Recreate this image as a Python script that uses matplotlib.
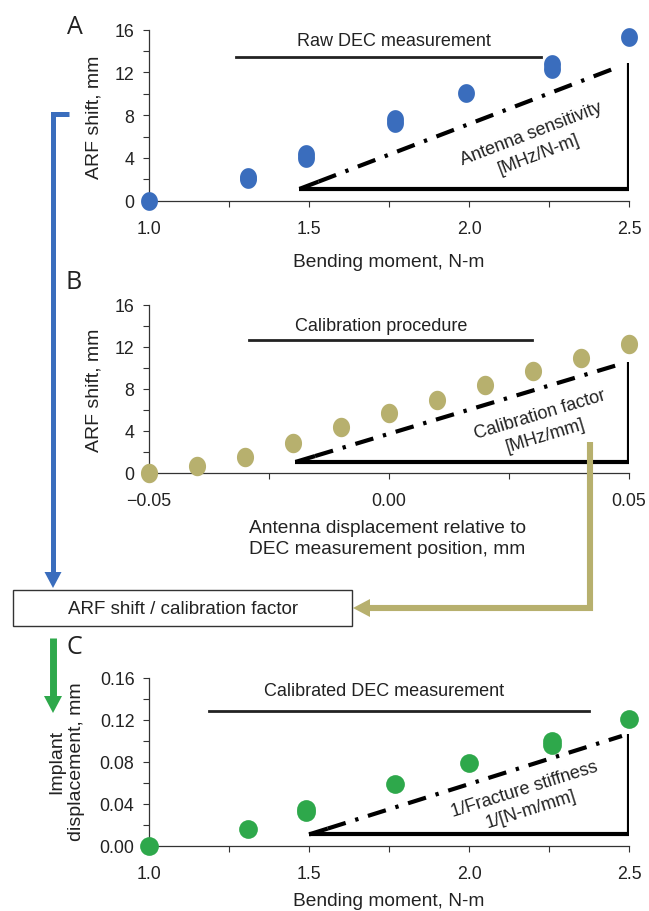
import numpy as np
import matplotlib
matplotlib.use('Agg')
import matplotlib.pyplot as plt
from matplotlib.path import Path
from matplotlib.lines import Line2D
from matplotlib.patches import Polygon, Rectangle

plt.rcParams['font.family'] = ['Liberation Sans', 'DejaVu Sans']

W, H = 649, 912  # output size in pixels (dpi 100)

BLUE = '#3a6dbd'
TAN = '#b7b06e'
GREEN = '#2ea84b'
INK = '#222222'

# Panel A: raw DEC measurement (overlapping pairs were read as two points)
moment_a = [1.0, 1.31, 1.31, 1.49, 1.49, 1.77, 1.77, 1.99, 2.26, 2.26, 2.5]
shift_a = [0.0, 2.0, 2.2, 4.0, 4.35, 7.3, 7.6, 10.1, 12.3, 12.75, 15.3]

# Panel B: calibration procedure
disp_b = [-0.05, -0.04, -0.03, -0.02, -0.01, 0.0, 0.01, 0.02, 0.03, 0.04, 0.05]
shift_b = [0.0, 0.7, 1.5, 2.9, 4.4, 5.7, 7.0, 8.4, 9.7, 11.0, 12.3]

# Panel C: calibrated DEC measurement
moment_c = [1.0, 1.31, 1.49, 1.49, 1.77, 2.0, 2.26, 2.26, 2.5]
implant_c = [0.0, 0.016, 0.032, 0.035, 0.059, 0.079, 0.096, 0.100, 0.121]

# slope triangles: (x start, x corner, y bottom, y top of vertical, hyp end x, hyp end y)
tri_a = (1.47, 2.5, 1.1, 12.9, 2.465, 12.5)
tri_b = (-0.0195, 0.05, 1.05, 10.55, 0.0488, 10.45)
tri_c = (1.50, 2.5, 0.011, 0.107, 2.478, 0.1048)

# header bars: (x0, x1, y, title, title x, title y)
bar_a = (1.272, 2.224, 13.47, 'Raw DEC measurement', 1.764, 14.97)
bar_b = (-0.0292, 0.0297, 12.67, 'Calibration procedure', -0.0016, 14.04)
bar_c = (1.187, 2.374, 0.129, 'Calibrated DEC measurement', 1.735, 0.148)

# slope labels: (text, x, y)
note_a = ('Antenna sensitivity\n[MHz/N-m]', 2.205, 5.35)
note_b = ('Calibration factor\n[MHz/mm]', 0.032, 4.62)
note_c = ('1/Fracture stiffness\n1/[N-m/mm]', 2.184, 0.0448)


def ellipse_marker(ratio):
    t = np.linspace(0, 2 * np.pi, 60)
    verts = np.column_stack([ratio * np.cos(t), np.sin(t)])
    return Path(verts, closed=True)


def px(x, y):
    ''' pixel position (from top left) -> inches for dpi_scale_trans '''
    return (x / 100.0, (H - y) / 100.0)


def make_axes(fig, top, bottom, left=149, right=629):
    return fig.add_axes([left / W, 1 - bottom / H, (right - left) / W,
                         (bottom - top) / H])


def style_axes(ax, xlim, ylim, xticks, xlabels, yticks, ylabels, xminor, yminor):
    ax.set_xlim(xlim)
    ax.set_ylim(ylim)
    for side in ['top', 'right']:
        ax.spines[side].set_visible(False)
    for side in ['left', 'bottom']:
        ax.spines[side].set_linewidth(0.9)
        ax.spines[side].set_color('#333333')
    ax.set_xticks(xticks, xlabels)
    ax.set_yticks(yticks, ylabels)
    ax.set_xticks(xminor, minor=True)
    ax.set_yticks(yminor, minor=True)
    ax.tick_params(which='both', direction='out', length=4.5, width=0.8,
                   color='#333333', labelsize=12.8, labelcolor=INK)
    ax.tick_params(axis='x', which='both', pad=9.5)
    ax.tick_params(axis='y', which='both', pad=6)
    ax.patch.set_alpha(0)


def slope_angle(ax, p0, p1):
    (x0, y0), (x1, y1) = ax.transData.transform([p0, p1])
    return np.degrees(np.arctan2(y1 - y0, x1 - x0))


def decorate(ax, tri, bar, note):
    x0, xc, yb, yt, hx, hy = tri
    # thick right-angle sides
    ax.plot([x0, xc, xc], [yb, yb, yt], color='black', lw=3.0,
            solid_joinstyle='miter', solid_capstyle='butt', zorder=2)
    # short solid wedge then dash-dot hypotenuse
    frac = 0.06
    wx, wy = x0 + frac * (hx - x0), yb + frac * (hy - yb)
    ax.plot([x0, wx], [yb, wy], color='black', lw=3.0,
            solid_capstyle='butt', zorder=2)
    ax.plot([wx, hx], [wy, hy], color='black', lw=3.0,
            linestyle=(0, (4.5, 2.4, 0.8, 2.4)), dash_capstyle='butt', zorder=2)
    # header bar and title
    bx0, bx1, by, title, tx, ty = bar
    ax.plot([bx0, bx1], [by, by], color=INK, lw=2.0, zorder=2)
    ax.text(tx, ty, title, ha='center', va='center', fontsize=13, color=INK)
    text, nx, ny = note
    ang = slope_angle(ax, (x0, yb), (hx, hy))
    ax.text(nx, ny, text, ha='center', va='center', rotation=ang,
            rotation_mode='anchor', multialignment='center', linespacing=1.35,
            fontsize=13, color=INK)


fig = plt.figure(figsize=(W / 100, H / 100), dpi=100)

# ---- Panel A
ax_a = make_axes(fig, 30.7, 201.7)
style_axes(ax_a, (1.0, 2.5), (0, 16), [1.0, 1.5, 2.0, 2.5],
           ['1.0', '1.5', '2.0', '2.5'], [0, 4, 8, 12, 16],
           ['0', '4', '8', '12', '16'], [1.25, 1.75, 2.25], [2, 6, 10, 14])
ax_a.plot(moment_a, shift_a, linestyle='none', marker=ellipse_marker(0.9),
          markersize=13.5, color=BLUE, markeredgewidth=0, clip_on=False, zorder=3)
decorate(ax_a, tri_a, bar_a, note_a)
ax_a.set_xlabel('Bending moment, N-m', fontsize=13.8, color=INK)
ax_a.xaxis.set_label_coords(0.5, -0.353)
ax_a.xaxis.label.set_verticalalignment('center')
ax_a.set_ylabel('ARF shift, mm', fontsize=14, color=INK)
ax_a.yaxis.set_label_coords(-0.115, 0.495)
ax_a.yaxis.label.set_verticalalignment('center')

# ---- Panel B
ax_b = make_axes(fig, 306, 474)
style_axes(ax_b, (-0.05, 0.05), (0, 16), [-0.05, 0.0, 0.05],
           ['\u22120.05', '0.00', '0.05'], [0, 4, 8, 12, 16],
           ['0', '4', '8', '12', '16'], [-0.025, 0.025], [2, 6, 10, 14])
ax_b.plot(disp_b, shift_b, linestyle='none', marker=ellipse_marker(0.88),
          markersize=14, color=TAN, markeredgewidth=0, clip_on=False, zorder=3)
decorate(ax_b, tri_b, bar_b, note_b)
ax_b.set_xlabel('Antenna displacement relative to\nDEC measurement position, mm',
                fontsize=13.8, color=INK, multialignment='left', linespacing=1.25)
ax_b.xaxis.set_label_coords(0.496, -0.387)
ax_b.xaxis.label.set_verticalalignment('center')
ax_b.set_ylabel('ARF shift, mm', fontsize=14, color=INK)
ax_b.yaxis.set_label_coords(-0.115, 0.5)
ax_b.yaxis.label.set_verticalalignment('center')

# ---- Panel C
ax_c = make_axes(fig, 679, 847)
style_axes(ax_c, (1.0, 2.5), (0, 0.16), [1.0, 1.5, 2.0, 2.5],
           ['1.0', '1.5', '2.0', '2.5'], [0, 0.04, 0.08, 0.12, 0.16],
           ['0.00', '0.04', '0.08', '0.12', '0.16'], [1.25, 1.75, 2.25],
           [0.02, 0.06, 0.10, 0.14])
ax_c.plot(moment_c, implant_c, linestyle='none', marker='o',
          markersize=13.5, color=GREEN, markeredgewidth=0, clip_on=False, zorder=3)
decorate(ax_c, tri_c, bar_c, note_c)
ax_c.set_xlabel('Bending moment, N-m', fontsize=13.8, color=INK)
ax_c.xaxis.set_label_coords(0.5, -0.327)
ax_c.xaxis.label.set_verticalalignment('center')
ax_c.set_ylabel('Implant\ndisplacement, mm', fontsize=14, color=INK,
                linespacing=1.2)
ax_c.yaxis.set_label_coords(-0.171, 0.506)
ax_c.yaxis.label.set_verticalalignment('center')

# ---- flow arrows and box (figure pixel space)
tr = fig.dpi_scale_trans


def polyline(xs, ys, color, lw):
    pts = [px(x, y) for x, y in zip(xs, ys)]
    fig.add_artist(Line2D([p[0] for p in pts], [p[1] for p in pts],
                          transform=tr, color=color, lw=lw,
                          solid_joinstyle='miter', solid_capstyle='butt',
                          zorder=5))


def head(points, color):
    fig.add_artist(Polygon([px(x, y) for x, y in points], closed=True,
                           transform=tr, facecolor=color, edgecolor='none',
                           zorder=5))


# blue bracket from panel A down to box
polyline([69, 53, 53], [115, 115, 575], BLUE, 3.6)
head([(44.5, 573), (61.5, 573), (53, 589)], BLUE)

# tan arrow from panel B into the box
polyline([590, 590, 368], [443, 609, 609], TAN, 4.4)
head([(370, 600), (370, 618), (353, 609)], TAN)

# green arrow from box to panel C
polyline([53, 53], [639, 699], GREEN, 5.0)
head([(44, 697), (62, 697), (53, 714)], GREEN)

bx0, by0 = px(13, 627)
fig.add_artist(Rectangle((bx0, by0), 3.39, 0.36, transform=tr, fill=False,
                         edgecolor='#333333', lw=1.0, zorder=5))
fig.text(183 / W, 1 - 609 / H, 'ARF shift / calibration factor', ha='center',
         va='center', fontsize=13.5, color=INK)

# panel letters
for letter, (lx, ly) in zip(['A', 'B', 'C'], [(75, 27), (74, 283), (74, 648)]):
    fig.text(lx / W, 1 - ly / H, letter, ha='center', va='center', fontsize=18,
             family=['Open Sans', 'DejaVu Sans'], color=INK)

fig.savefig('out.png', dpi=100)
